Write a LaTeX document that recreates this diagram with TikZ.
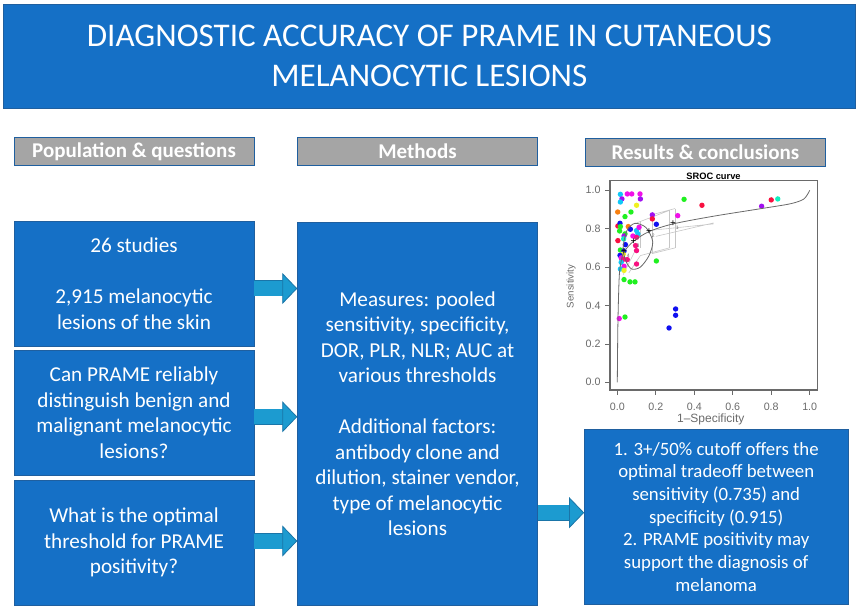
\documentclass[tikz,border=0pt]{standalone}
\usepackage{fontspec}
\setmainfont{Carlito}
\newfontfamily\plotfont{Liberation Sans}
\usetikzlibrary{arrows.meta}
\definecolor{boxblue}{HTML}{1570C6}
\definecolor{boxedge}{HTML}{1F5F9F}
\definecolor{headgray}{HTML}{A5A5A5}
\definecolor{arrowblue}{HTML}{1C9BD0}
\definecolor{arrowedge}{HTML}{1A75A8}
\definecolor{axisgray}{HTML}{6A6A6A}
\definecolor{ptcyan}{HTML}{10C8F8}
\definecolor{ptmag}{HTML}{F010E8}
\definecolor{ptpurple}{HTML}{A010F0}
\definecolor{ptgreen}{HTML}{20F020}
\definecolor{ptred}{HTML}{F81040}
\definecolor{ptpink}{HTML}{F81080}
\definecolor{ptblue}{HTML}{1010F0}
\definecolor{ptorange}{HTML}{F88010}
\definecolor{ptyellow}{HTML}{F0F020}
\definecolor{ptteal}{HTML}{10F0C0}
\tikzset{
  bluebox/.style = {draw = boxedge, fill = boxblue, text = white, align = center, inner sep = 0pt,
    font = \fontsize{21.2}{25.5}\selectfont},
  headbox/.style = {draw = boxedge, fill = headgray, text = white, align = center, inner sep = 0pt,
    minimum width = 240pt, minimum height = 28pt, font = \fontsize{21}{24}\selectfont\bfseries},
  blockarrow/.style = {line width = 15pt, draw = arrowblue,
    preaction = {draw = arrowedge, line width = 16pt, -, shorten > = 14pt},
    -{Triangle[length = 15pt, width = 31pt, color = arrowedge, fill = arrowblue, line width = 0.8pt]}},
  ticklabel/.style = {text = axisgray, font = \fontsize{10.7}{12}\plotfont},
  ciline/.style = {draw = gray!45, line width = 0.6pt},
}
\begin{document}
\begin{tikzpicture}
        [x = 1pt, y = -1pt]
        \useasboundingbox (0,0) rectangle (859,609);
        % title and column heads
        \node[bluebox, minimum width = 851.5pt, minimum height = 104pt, font = \fontsize{33.1}{40}\selectfont]
          (title) at (429.3,56) {DIAGNOSTIC ACCURACY OF PRAME IN CUTANEOUS\\MELANOCYTIC LESIONS};
        \node[headbox] (popHead) at (134,151.3) {Population \& questions};
        \node[headbox] (methHead) at (417.5,150.8) {Methods};
        \node[headbox] (resHead) at (705.4,152.7) {Results \& conclusions};
        % left column
        \node[bluebox, minimum width = 240pt, minimum height = 125pt] (popA) at (134,283.5)
          {26 studies\\[25.5pt]2,915 melanocytic\\lesions of the skin};
        \node[bluebox, minimum width = 240pt, minimum height = 124.5pt] (popB) at (134,412.8)
          {Can PRAME reliably\\distinguish benign and\\malignant melanocytic\\lesions?};
        \node[bluebox, minimum width = 240pt, minimum height = 125pt] (popC) at (134,542.5)
          {What is the optimal\\threshold for PRAME\\positivity?};
        % middle and right
        \node[bluebox, minimum width = 240pt, minimum height = 383pt] (meth) at (417.5,413.5)
          {Measures: pooled\\sensitivity, specificity,\\DOR, PLR, NLR; AUC at\\various thresholds\\[25.5pt]Additional factors:\\antibody clone and\\dilution, stainer vendor,\\type of melanocytic\\lesions};
        \node[bluebox, minimum width = 263.7pt, minimum height = 174.7pt, font = \fontsize{18.8}{22.7}\selectfont] (concl) at (716.2,516.7)
          {1. 3+/50\% cutoff offers the\\optimal tradeoff between\\sensitivity (0.735) and\\specificity (0.915)\\2. PRAME positivity may\\support the diagnosis of\\melanoma};
        % arrows
        \draw[blockarrow] ([yshift = -5pt]popA.east) -- ([yshift = -5pt]popA.east -| meth.west);
        \draw[blockarrow] ([yshift = -4pt]popB.east) -- ([yshift = -4pt]popB.east -| meth.west);
        \draw[blockarrow] ([yshift = 1.5pt]popC.east) -- ([yshift = 1.5pt]popC.east -| meth.west);
        \draw[blockarrow] ([yshift = 4pt]concl.west -| meth.east) -- ([yshift = 4pt]concl.west);
        % SROC plot
        \begin{scope}[shift = {(617.3,382.3)}, x = 192.4pt, y = 192pt]
          \draw[axisgray, line width = 1.2pt] (-0.038,-0.04) rectangle (1.04,1.05);
          \foreach \v in {0.0,0.2,0.4,0.6,0.8,1.0} {
            \draw[axisgray, line width = 0.7pt] (\v,-0.04) -- (\v,-0.064);
            \draw[axisgray, line width = 0.7pt] (-0.038,\v) -- (-0.064,\v);
            \node[ticklabel] at (\v,-0.127) {\v};
            \node[ticklabel, anchor = east, inner sep = 0pt] at (-0.086,\v) {\v};
          }
          \node[font = \fontsize{9.3}{11}\plotfont\bfseries] at (0.5,1.071) {SROC curve};
          \node[text = axisgray, font = \fontsize{12}{14}\plotfont] at (0.486,-0.191) {1–Specificity};
          \node[text = axisgray, rotate = 90, font = \fontsize{9.7}{11}\plotfont] at (-0.24,0.5) {Sensitivity};
          % confidence lines
          \draw[ciline] (0.27,0.70) -- (0.27,0.895) (0.30,0.70) -- (0.30,0.905);
          \draw[ciline] (0.10,0.83) -- (0.27,0.895) (0.17,0.87) -- (0.30,0.905);
          \draw[ciline] (0.18,0.67) -- (0.30,0.70) (0.12,0.66) -- (0.27,0.70);
          \draw[ciline] (0.16,0.79) -- (0.50,0.825) (0.20,0.76) -- (0.50,0.83);
          \draw[ciline] (0.12,0.70) -- (0.12,0.84) (0.18,0.67) -- (0.18,0.87);
          \draw[ciline] (0.03,0.56) -- (0.10,0.70) (0.06,0.57) -- (0.12,0.66);
          % data
          \foreach \px/\py/\pc in {
            0.016/0.979/ptcyan, 0.052/0.981/ptmag, 0.075/0.981/ptmag, 0.118/0.981/ptmag,
            0.024/0.955/ptpurple, 0.120/0.955/ptpurple, 0.016/0.939/ptcyan, 0.347/0.953/ptgreen,
            0.440/0.922/ptred, 0.750/0.917/ptpurple, 0.800/0.950/ptred, 0.834/0.955/ptteal,
            0.002/0.887/ptorange, 0.100/0.922/ptyellow, 0.071/0.887/ptgreen, 0.040/0.863/ptgreen,
            0.182/0.872/ptpurple, 0.182/0.851/ptred, 0.314/0.868/ptmag, 0.203/0.823/ptblue,
            0.003/0.814/ptred, 0.014/0.828/ptblue, 0.016/0.811/ptgreen, 0.012/0.788/ptgreen,
            0.057/0.811/ptorange, 0.068/0.797/ptblue, 0.040/0.773/ptgreen, 0.100/0.790/ptcyan,
            0.107/0.773/ptcyan, 0.113/0.807/ptmag, 0.081/0.762/ptmag, 0.035/0.762/ptpurple,
            0.033/0.747/ptteal, 0.100/0.755/ptpink, 0.003/0.738/ptred, 0.042/0.717/ptblue,
            0.095/0.712/ptpink, 0.100/0.686/ptpink, 0.016/0.689/ptgreen, 0.035/0.684/ptblue,
            0.031/0.667/ptyellow, 0.014/0.661/ptblue, 0.020/0.648/ptmag, 0.033/0.641/ptpink,
            0.052/0.639/ptpink, 0.020/0.625/ptcyan, 0.100/0.616/ptpink, 0.203/0.632/ptgreen,
            0.035/0.604/ptmag, 0.016/0.590/ptcyan, 0.035/0.583/ptyellow, 0.035/0.535/ptgreen,
            0.066/0.523/ptgreen, 0.092/0.523/ptgreen, 0.010/0.332/ptmag, 0.040/0.340/ptgreen,
            0.303/0.382/ptblue, 0.303/0.349/ptblue, 0.269/0.283/ptblue}
            \fill[\pc] (\px,\py) circle[radius = 2.7pt];
          % curve and region
          \draw[axisgray, line width = 0.8pt] plot[smooth] coordinates {(0,0) (0.003,0.30) (0.010,0.55)
            (0.020,0.63) (0.035,0.68) (0.085,0.735) (0.165,0.785) (0.29,0.825) (0.50,0.865)
            (0.75,0.905) (0.90,0.93) (0.97,0.955) (1,1)};
          \draw[axisgray, line width = 0.8pt] plot[smooth cycle] coordinates {(0.092,0.828) (0.15,0.805)
            (0.184,0.733) (0.165,0.66) (0.12,0.60) (0.075,0.59) (0.045,0.63) (0.03,0.70) (0.05,0.79)};
          \foreach \cx/\cy/\cn in {0.29/0.825/1, 0.165/0.785/2, 0.085/0.735/3, 0.035/0.68/4} {
            \node[inner sep = 0pt, font = \fontsize{10}{10}\plotfont] at (\cx,\cy) {+};
            \node[text = axisgray, inner sep = 0pt, font = \fontsize{5}{5}\plotfont] at (\cx+0.022,\cy-0.022) {\cn};
          }
        \end{scope}
      \end{tikzpicture}
\end{document}
